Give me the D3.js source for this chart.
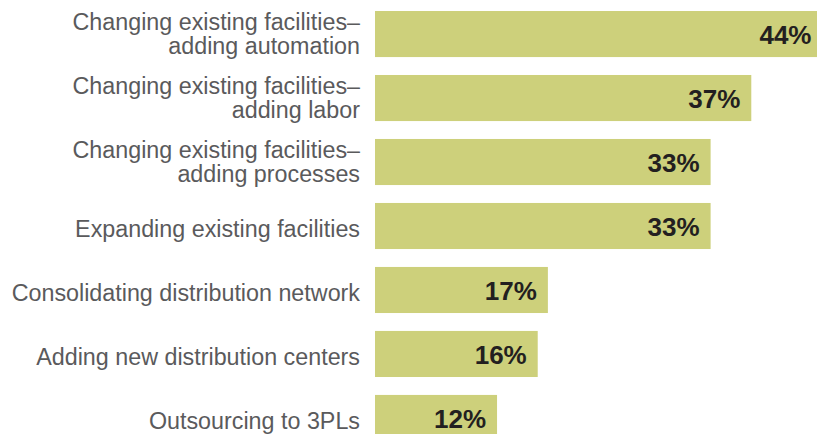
<!DOCTYPE html>
<html>
<head>
<meta charset="utf-8">
<script src="https://cdn.jsdelivr.net/npm/d3@7"></script>
<style>
  html, body { margin: 0; padding: 0; background: #fff; }
  svg { display: block; }
</style>
</head>
<body>
<svg id="chart" width="817" height="434"></svg>
<script>
const categories = [
  ["Changing existing facilities\u2013", "adding automation"],
  ["Changing existing facilities\u2013", "adding labor"],
  ["Changing existing facilities\u2013", "adding processes"],
  ["Expanding existing facilities"],
  ["Consolidating distribution network"],
  ["Adding new distribution centers"],
  ["Outsourcing to 3PLs"]
];
const values = [44, 37, 33, 33, 17, 16, 12];
const valueLabels = ["44%", "37%", "33%", "33%", "17%", "16%", "12%"];

const svg = d3.select("#chart");
const barLeft = 375;
const x = d3.scaleLinear().domain([0, 10]).range([barLeft, barLeft + 101.7]);
const y = d3.scaleBand().domain(d3.range(values.length)).range([11, 441]).paddingInner(0.28).paddingOuter(0);

const g = svg.selectAll("g.row").data(values).join("g").attr("class", "row");

g.append("rect")
  .attr("x", x(0))
  .attr("y", (d, i) => y(i))
  .attr("width", d => x(d) - x(0))
  .attr("height", y.bandwidth())
  .attr("fill", "#cdd07b");

g.append("text")
  .attr("x", d => x(d) - 11)
  .attr("y", (d, i) => y(i) + y.bandwidth() / 2 + 1)
  .attr("dy", "0.36em")
  .attr("text-anchor", "end")
  .attr("font-family", "'Liberation Sans', Arial, sans-serif")
  .attr("font-weight", "bold")
  .attr("font-size", 26)
  .attr("fill", "#231f20")
  .text((d, i) => valueLabels[i]);

const lbl = g.append("text")
  .attr("text-anchor", "end")
  .attr("font-family", "'Liberation Sans', Arial, sans-serif")
  .attr("font-size", 23.3)
  .attr("fill", "#5a5a5c");

lbl.each(function(d, i) {
  const lines = categories[i];
  const cy = y(i) + y.bandwidth() / 2 + (lines.length === 1 ? 2.5 : 0);
  const lh = 24;
  const t = d3.select(this);
  lines.forEach((line, k) => {
    t.append("tspan")
      .attr("x", 360)
      .attr("y", cy + (k - (lines.length - 1) / 2) * lh)
      .attr("dy", "0.36em")
      .text(line);
  });
});
</script>
</body>
</html>
